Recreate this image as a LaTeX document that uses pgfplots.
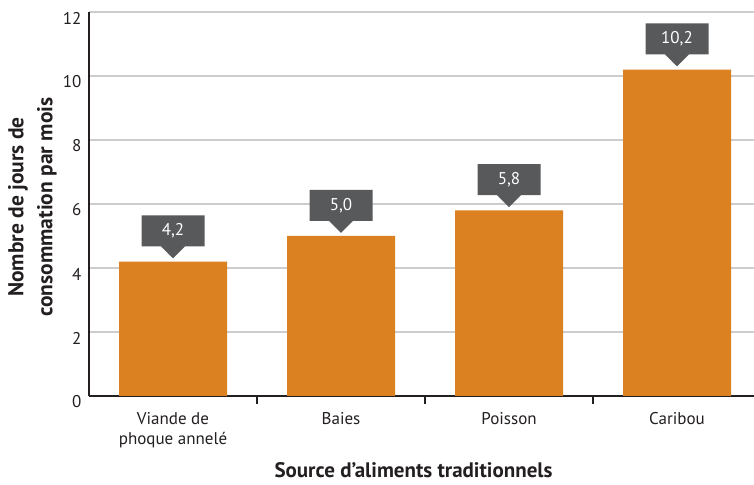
\documentclass[border=0pt]{standalone}
\usepackage{pgfplots}
\pgfplotsset{compat=1.18}
\usepackage{fontspec}
\setmainfont{PT Sans}
\usetikzlibrary{shapes.callouts}

\definecolor{barorange}{HTML}{DB8121}
\definecolor{calloutgray}{HTML}{58595B}
\definecolor{axisdark}{HTML}{231F20}
\definecolor{gridgray}{HTML}{CCCCCC}

\begin{document}
\begin{tikzpicture}
\useasboundingbox (0,0) rectangle (754pt,484pt);
\clip (0,0) rectangle (754pt,484pt);
\begin{axis}[
  at={(89pt,88pt)}, anchor=south west,
  scale only axis, width=672pt, height=384pt,
  ybar,
  xmin=-0.5, xmax=3.5, ymin=0, ymax=12,
  axis x line=bottom, axis y line=left,
  axis line style={-, line width=1.6pt, color=axisdark},
  ytick={0,2,...,12},
  ymajorgrids, grid style={gridgray, line width=1.2pt},
  xtick={0,1,2,3},
  xticklabels={Viande de\\phoque annelé, Baies, Poisson, Caribou},
  minor xtick={0.5,1.5,2.5,3.5},
  major tick length=0pt, minor tick length=8pt,
  tick align=outside,
  minor tick style={axisdark, line width=1.2pt},
  xticklabel style={align=center, font=\fontsize{17}{20}\selectfont, text=axisdark, yshift=-13pt},
  yticklabel style={font=\fontsize{17}{20}\selectfont, text=axisdark, yshift=-6pt, xshift=-4pt},
  /pgf/number format/assume math mode=true,
  bar width=108pt,
  nodes near coords={\pgfmathprintnumber[use comma, fixed, fixed zerofill, precision=1, assume math mode=true]{\pgfplotspointmeta}},
  nodes near coords style={rectangle callout, fill=calloutgray, text=white,
    font=\fontsize{17}{20}\selectfont, minimum width=63pt, minimum height=31pt,
    inner sep=0pt, callout relative pointer={(0pt,-12pt)},
    callout pointer width=24pt, anchor=south, yshift=15pt},
]
\addplot[fill=barorange, draw=none] coordinates {(0,4.2) (1,5.0) (2,5.8) (3,10.2)};
\end{axis}
\node[rotate=90, align=center, font=\bfseries\fontsize{21.5}{29}\selectfont, text=axisdark]
  at (32.5pt,277pt) {Nombre de jours de\\consommation par mois};
\node[anchor=base, inner sep=0pt, font=\bfseries\fontsize{21}{24}\selectfont, text=axisdark]
  at (413.5pt,7pt) {Source d’aliments traditionnels};
\end{tikzpicture}
\end{document}
